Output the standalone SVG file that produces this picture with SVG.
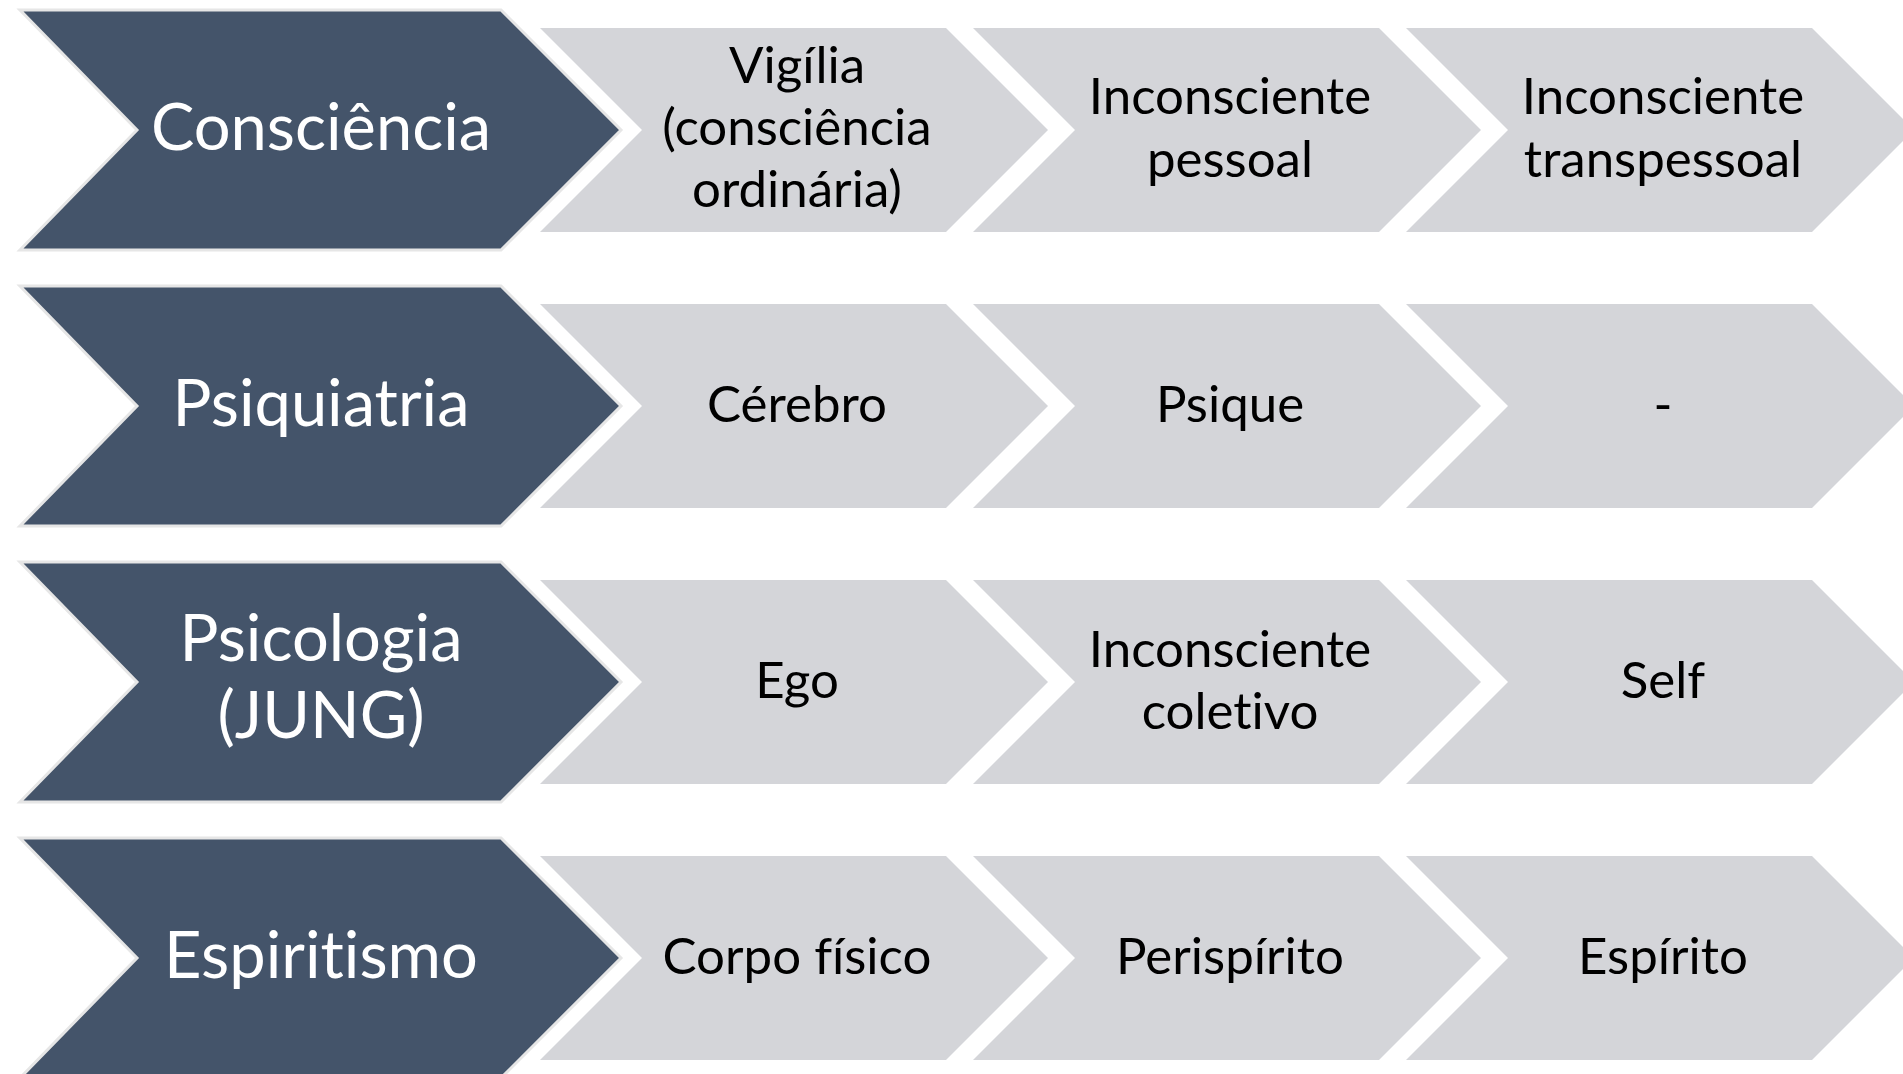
<svg xmlns="http://www.w3.org/2000/svg" width="1903" height="1074" viewBox="0 0 1903 1074">
<style>
.dark{fill:#44546a;stroke:#e6e6e6;stroke-width:3;stroke-linejoin:miter}
.light{fill:#d4d5d9}
text{font-variant-ligatures:none;font-feature-settings:"liga" 0,"clig" 0}
.dt{font-family:Lato,"Open Sans","Liberation Sans",sans-serif;font-size:65px;fill:#ffffff;text-anchor:middle}
.lt{font-family:Lato,"Open Sans","Liberation Sans",sans-serif;font-size:51px;fill:#000000;text-anchor:middle}
</style>
<rect width="1903" height="1074" fill="#ffffff"/>
<!-- Row 1 -->
<g id="consciencia">
<polygon class="dark" points="20,10 501,10 621,130 501,250 20,250 137,130"/>
<text class="dt" x="321" y="150">Consciência</text>
</g>
<g id="vigilia">
<polygon class="light" points="540,28 946,28 1048,130 946,232 540,232 642,130"/>
<text class="lt" x="797" y="83">Vigília</text>
<text class="lt" x="797" y="145">(consciência</text>
<text class="lt" x="797" y="207">ordinária)</text>
</g>
<g id="inconsciente-pessoal">
<polygon class="light" points="973,28 1379,28 1481,130 1379,232 973,232 1075,130"/>
<text class="lt" x="1230" y="114">Inconsciente</text>
<text class="lt" x="1230" y="177">pessoal</text>
</g>
<g id="inconsciente-transpessoal">
<polygon class="light" points="1406,28 1812,28 1914,130 1812,232 1406,232 1508,130"/>
<text class="lt" x="1663" y="114">Inconsciente</text>
<text class="lt" x="1663" y="177">transpessoal</text>
</g>
<!-- Row 2 -->
<g id="psiquiatria">
<polygon class="dark" points="20,286 501,286 621,406 501,526 20,526 137,406"/>
<text class="dt" x="321" y="426">Psiquiatria</text>
</g>
<g id="cerebro">
<polygon class="light" points="540,304 946,304 1048,406 946,508 540,508 642,406"/>
<text class="lt" x="797" y="422">Cérebro</text>
</g>
<g id="psique">
<polygon class="light" points="973,304 1379,304 1481,406 1379,508 973,508 1075,406"/>
<text class="lt" x="1230" y="422">Psique</text>
</g>
<g id="vazio">
<polygon class="light" points="1406,304 1812,304 1914,406 1812,508 1406,508 1508,406"/>
<text class="lt" x="1663" y="422">-</text>
</g>
<!-- Row 3 -->
<g id="psicologia">
<polygon class="dark" points="20,562 501,562 621,682 501,802 20,802 137,682"/>
<text class="dt" x="321" y="661">Psicologia</text>
<text class="dt" x="321" y="738">(JUNG)</text>
</g>
<g id="ego">
<polygon class="light" points="540,580 946,580 1048,682 946,784 540,784 642,682"/>
<text class="lt" x="797" y="698">Ego</text>
</g>
<g id="inconsciente-coletivo">
<polygon class="light" points="973,580 1379,580 1481,682 1379,784 973,784 1075,682"/>
<text class="lt" x="1230" y="667">Inconsciente</text>
<text class="lt" x="1230" y="729">coletivo</text>
</g>
<g id="self">
<polygon class="light" points="1406,580 1812,580 1914,682 1812,784 1406,784 1508,682"/>
<text class="lt" x="1663" y="698">Self</text>
</g>
<!-- Row 4 -->
<g id="espiritismo">
<polygon class="dark" points="20,838 501,838 621,958 501,1078 20,1078 137,958"/>
<text class="dt" x="321" y="978">Espiritismo</text>
</g>
<g id="corpo-fisico">
<polygon class="light" points="540,856 946,856 1048,958 946,1060 540,1060 642,958"/>
<text class="lt" x="797" y="974">Corpo físico</text>
</g>
<g id="perispirito">
<polygon class="light" points="973,856 1379,856 1481,958 1379,1060 973,1060 1075,958"/>
<text class="lt" x="1230" y="974">Perispírito</text>
</g>
<g id="espirito">
<polygon class="light" points="1406,856 1812,856 1914,958 1812,1060 1406,1060 1508,958"/>
<text class="lt" x="1663" y="974">Espírito</text>
</g>
<g id="connectors"/>
</svg>
